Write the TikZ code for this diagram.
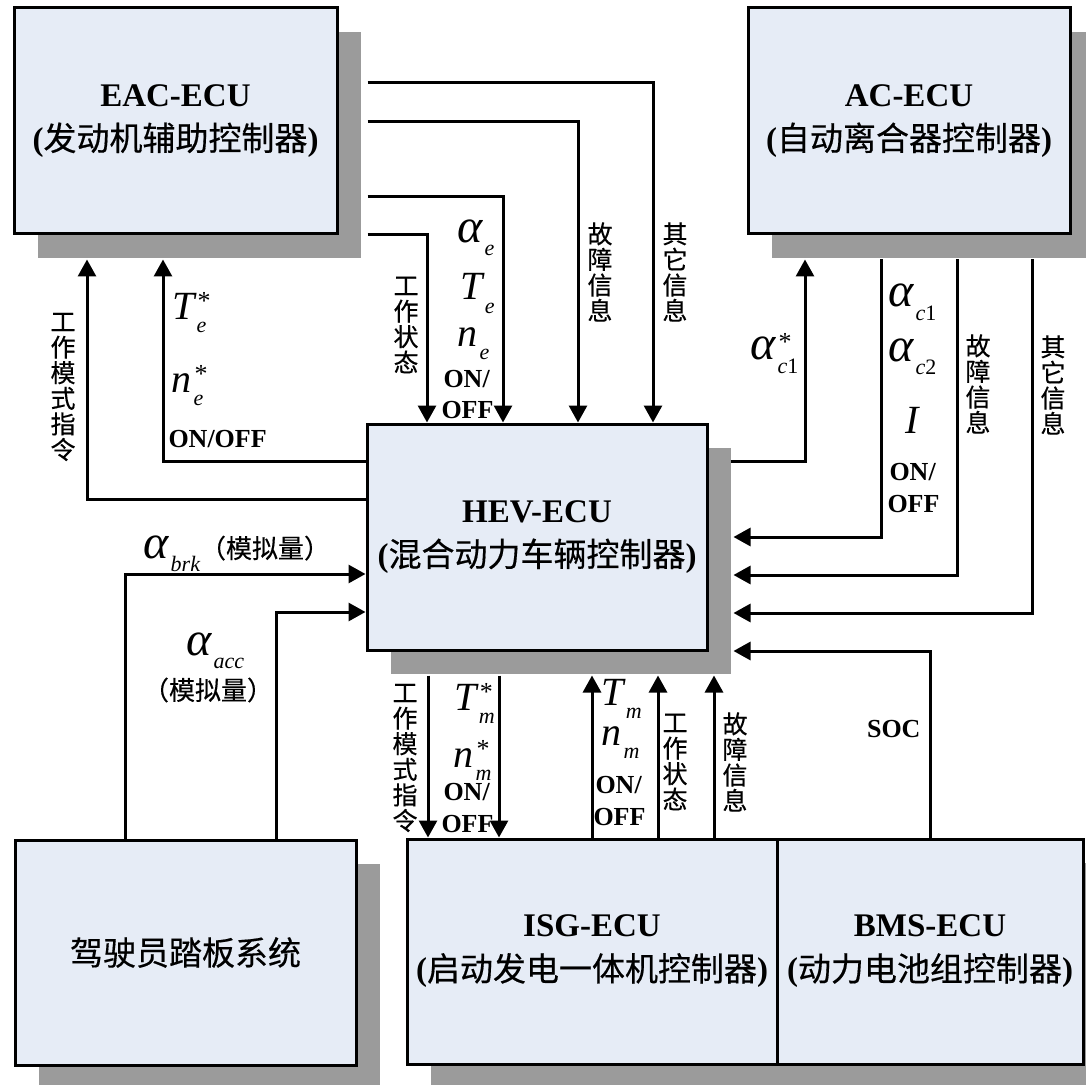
\documentclass[tikz,border=0pt]{standalone}
\usepackage{fontspec}
\setmainfont{Liberation Serif}
\newfontfamily\cjk[FakeBold=0.4]{Noto Sans CJK SC}
\usetikzlibrary{calc,arrows.meta,shadows}
\definecolor{boxfill}{RGB}{230,236,246}
\definecolor{shade}{RGB}{155,155,155}
\newcommand{\msym}[3]{{\fontsize{20}{20}\selectfont\itshape #1}\rlap{\kern1.5pt\raisebox{5pt}{\fontsize{13}{13}\selectfont #3}}\raisebox{-6.5pt}{\fontsize{11}{11}\selectfont\itshape\kern1pt #2}}
\newcommand{\galpha}{{\fontsize{24}{24}\selectfont α}}

\begin{document}
\begin{tikzpicture}[x=0.5pt, y=-0.5pt, line width=1.5pt,
    >={Triangle[length=8.5pt,width=9pt]},
    ecu/.style={rectangle, draw, fill=boxfill, inner sep=0pt, minimum height=113pt,
      align=center, font=\fontsize{16.5}{22}\selectfont,
      drop shadow={shadow xshift=12pt, shadow yshift=-12pt, fill=shade, opacity=1}},
    vlab/.style={align=center, inner sep=0pt, font=\cjk\fontsize{12.5}{12.8}\selectfont},
    sym/.style={anchor=base west, inner sep=0pt},
    onoff/.style={anchor=base west, inner sep=0pt, font=\bfseries\fontsize{13}{13}\selectfont}]

  \useasboundingbox (0,0) rectangle (1086,1085);

  % control units
  \node[ecu, minimum width=161.5pt] (eac) at (175.5,121)
    {\textbf{EAC-ECU}\\\textbf{(}{\cjk 发动机辅助控制器}\textbf{)}};
  \node[ecu, minimum width=161pt] (ac) at (909,121)
    {\textbf{AC-ECU}\\\textbf{(}{\cjk 自动离合器控制器}\textbf{)}};
  \node[ecu, minimum width=170pt] (hev) at (537,537)
    {\textbf{HEV-ECU}\\\textbf{(}{\cjk 混合动力车辆控制器}\textbf{)}};
  \node[ecu, minimum width=170.5pt, minimum height=112.5pt] (drv) at (185.5,952.5)
    {{\cjk 驾驶员踏板系统}};
  \node[ecu, minimum width=185pt, minimum height=112.5pt] (isg) at (592,951.5)
    {\textbf{ISG-ECU}\\\textbf{(}{\cjk 启动发电一体机控制器}\textbf{)}};
  \node[ecu, minimum width=153pt, minimum height=112.5pt] (bms) at (930,951.5)
    {\textbf{BMS-ECU}\\\textbf{(}{\cjk 动力电池组控制器}\textbf{)}};

  % EAC-ECU -> HEV-ECU
  \draw[->] ($(eac.east)+(29,-38)$) -| ($(hev.north)+(116,0)$);
  \draw[->] ($(eac.east)+(29,1)$) -| ($(hev.north)+(41,0)$);
  \draw[->] ($(eac.east)+(29,76)$) -| ($(hev.north)+(-34,0)$);
  \draw[->] ($(eac.east)+(29,114)$) -| ($(hev.north)+(-110,0)$);
  \node[vlab] (eother) at (675,272) {其\\它\\信\\息};
  \node[vlab] (efault) at (600,272) {故\\障\\信\\息};
  \node[vlab] (estate) at (406,325) {工\\作\\状\\态};
  \node[sym] (ealpha) at (456,243) {\msym{\galpha}{e}{}};
  \node[sym] (etorq) at (459,300) {\msym{T}{e}{}};
  \node[sym] (espeed) at (456,347) {\msym{n}{e}{}};
  \node[onoff] (eon) at (442,387) {ON/};
  \node[onoff] (eoff) at (440,418) {OFF};

  % HEV-ECU -> EAC-ECU
  \draw[->] ($(hev.west)+(0,-76)$) -| ($(eac.south)+(-12.5,24)$);
  \draw[->] ($(hev.west)+(0,-38)$) -| ($(eac.south)+(-88.5,24)$);
  \node[sym] (etref) at (171,320) {\msym{T}{e}{*}};
  \node[sym] (enref) at (170,393) {\msym{n}{e}{*}};
  \node[onoff] (eonoff) at (167,447) {ON/OFF};
  \node[vlab] (emode) at (63,387) {工\\作\\模\\式\\指\\令};

  % HEV-ECU <-> AC-ECU
  \draw[->] ($(hev.east)+(22,-76)$) -| ($(ac.south)+(-104,24)$);
  \node[sym] (caref) at (749,360) {\msym{\galpha}{c{\upshape 1}}{*}};
  \draw[->] ($(ac.south)+(-28,24)$) |- ($(hev.east)+(25,0)$);
  \draw[->] ($(ac.south)+(48,24)$) |- ($(hev.east)+(25,38)$);
  \draw[->] ($(ac.south)+(123,24)$) |- ($(hev.east)+(25,76)$);
  \node[sym] (calpha1) at (887,307) {\msym{\galpha}{c{\upshape 1}}{}};
  \node[sym] (calpha2) at (887,362) {\msym{\galpha}{c{\upshape 2}}{}};
  \node[sym] (ccur) at (904,433) {\msym{I}{}{}};
  \node[onoff] (con) at (888,480) {ON/};
  \node[onoff] (coff) at (886,512) {OFF};
  \node[vlab] (cfault) at (978,384) {故\\障\\信\\息};
  \node[vlab] (cother) at (1053,385) {其\\它\\信\\息};

  % BMS-ECU -> HEV-ECU
  \draw[->] (bms.north) |- ($(hev.east)+(25,114)$);
  \node[onoff, anchor=base east] (soc) at (922,737) {SOC};

  % HEV-ECU <-> ISG-ECU
  \draw[->] ($(hev.south)+(-109,24)$) -- ($(isg.north)+(-164,0)$);
  \draw[->] ($(hev.south)+(-38,24)$) -- ($(isg.north)+(-93,0)$);
  \draw[->] (isg.north) -- ($(hev.south)+(55,24)$);
  \draw[->] ($(isg.north)+(66,0)$) -- ($(hev.south)+(121,24)$);
  \draw[->] ($(isg.north)+(122,0)$) -- ($(hev.south)+(177,24)$);
  \node[vlab] (mmode) at (405,758) {工\\作\\模\\式\\指\\令};
  \node[sym] (mtref) at (453,710) {\msym{T}{m}{*}};
  \node[sym] (mnref) at (452,767) {\msym{n}{m}{*}};
  \node[onoff] (mon) at (442,800) {ON/};
  \node[onoff] (moff) at (440,832) {OFF};
  \node[sym] (mtorq) at (600,705) {\msym{T}{m}{}};
  \node[sym] (mspeed) at (600,745) {\msym{n}{m}{}};
  \node[onoff] (mon2) at (594,793) {ON/};
  \node[onoff] (moff2) at (592,825) {OFF};
  \node[vlab] (mstate) at (675,762) {工\\作\\状\\态};
  \node[vlab] (mfault) at (735,762) {故\\障\\信\\息};

  % pedals -> HEV-ECU
  \draw[->] ($(drv.north)+(-60.5,0)$) |- ($(hev.west)+(0,37)$);
  \draw[->] ($(drv.north)+(90.5,0)$) |- ($(hev.west)+(0,75)$);
  \node[sym] (brk) at (142,558)
    {\msym{\galpha}{brk}{}{\cjk\fontsize{13}{13}\selectfont （模拟量）}};
  \node[sym] (acc) at (185,655) {\msym{\galpha}{acc}{}};
  \node[inner sep=0pt, font=\cjk\fontsize{13}{13}\selectfont] (accnote) at (208,690) {（模拟量）};
\end{tikzpicture}
\end{document}
